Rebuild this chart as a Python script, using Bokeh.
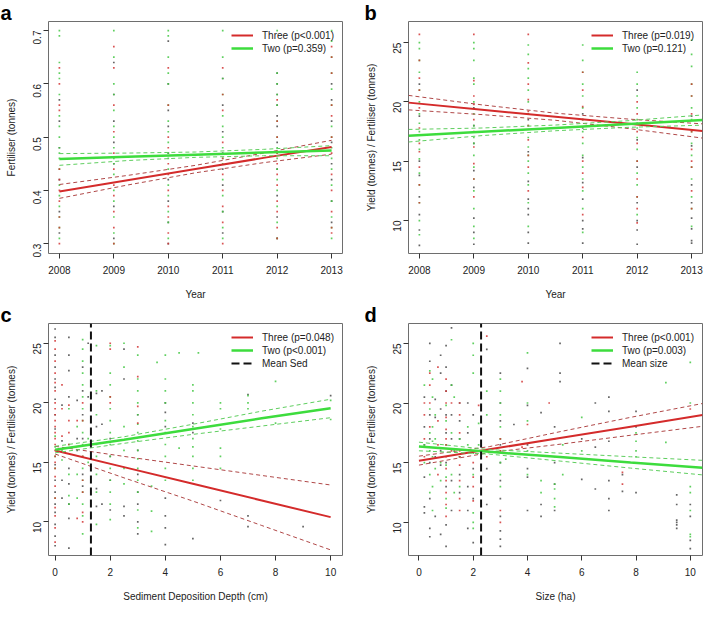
import math
from bokeh.plotting import figure
from bokeh.layouts import gridplot
from bokeh.models import FixedTicker, Legend, LegendItem, Range1d, Title
from bokeh.embed import file_html
from bokeh.resources import INLINE

FONT = "Liberation Sans"
RED = "#d42b2b"
GREEN = "#3ddc3d"
RED_CI = "#b04848"
GREEN_CI = "#5fce5f"
PT_RED = "#d23636"
PT_GREEN = "#44c844"
PT_DARK = "#4a4a4a"

# ---------------- data ----------------
years = [2008, 2009, 2010, 2011, 2012, 2013]

# Panel a: Fertiliser (tonnes) by year
a_two = [
    [0.31, 0.33, 0.35, 0.37, 0.39, 0.41, 0.44, 0.46, 0.47, 0.48, 0.50, 0.52, 0.54, 0.58, 0.61, 0.62, 0.64, 0.69, 0.70],
    [0.30, 0.32, 0.35, 0.38, 0.40, 0.43, 0.45, 0.46, 0.48, 0.50, 0.52, 0.55, 0.58, 0.60, 0.65, 0.70],
    [0.31, 0.34, 0.36, 0.39, 0.41, 0.44, 0.46, 0.47, 0.49, 0.51, 0.53, 0.56, 0.60, 0.62, 0.65, 0.69, 0.70],
    [0.31, 0.33, 0.36, 0.39, 0.42, 0.45, 0.46, 0.48, 0.50, 0.52, 0.54, 0.58, 0.61, 0.65, 0.70],
    [0.31, 0.34, 0.37, 0.40, 0.42, 0.44, 0.46, 0.47, 0.48, 0.50, 0.53, 0.56, 0.58, 0.60, 0.62, 0.70],
    [0.31, 0.33, 0.35, 0.38, 0.41, 0.44, 0.46, 0.48, 0.50, 0.52, 0.56, 0.59, 0.62, 0.65, 0.68, 0.70],
]
a_three = [
    [0.30, 0.33, 0.35, 0.38, 0.40, 0.42, 0.44, 0.55, 0.56, 0.60, 0.63],
    [0.30, 0.33, 0.36, 0.39, 0.41, 0.44, 0.47, 0.51, 0.56, 0.63, 0.67],
    [0.30, 0.32, 0.35, 0.37, 0.40, 0.43, 0.45, 0.48, 0.50, 0.56, 0.63],
    [0.30, 0.34, 0.37, 0.40, 0.43, 0.46, 0.49, 0.55, 0.58, 0.63],
    [0.31, 0.33, 0.36, 0.38, 0.41, 0.43, 0.45, 0.47, 0.50, 0.53, 0.57],
    [0.32, 0.33, 0.36, 0.40, 0.43, 0.47, 0.50, 0.54, 0.56, 0.62, 0.65, 0.67],
]
a_other = [
    [0.32, 0.36, 0.42, 0.48, 0.53, 0.57],
    [0.31, 0.37, 0.45, 0.49, 0.53, 0.58, 0.64],
    [0.30, 0.34, 0.38, 0.42, 0.47, 0.52, 0.55, 0.60, 0.68],
    [0.32, 0.36, 0.41, 0.44, 0.47, 0.51, 0.56, 0.61],
    [0.31, 0.35, 0.39, 0.44, 0.49, 0.52, 0.54, 0.56, 0.58, 0.60, 0.62],
    [0.34, 0.38, 0.42, 0.45, 0.49, 0.53, 0.57, 0.60],
]
a_fit_x = [2008, 2009.25, 2010.5, 2011.75, 2013]
a_three_fit = [0.398, 0.419, 0.440, 0.461, 0.4815]
a_three_upper = [0.411, 0.428, 0.447, 0.470, 0.494]
a_three_lower = [0.385, 0.410, 0.433, 0.452, 0.468]
a_two_fit = [0.459, 0.463, 0.467, 0.471, 0.475]
a_two_upper = [0.469, 0.470, 0.472, 0.477, 0.484]
a_two_lower = [0.447, 0.456, 0.462, 0.465, 0.465]

# Panel b: Yield / Fertiliser by year
b_two = [
    [8.8, 10.0, 11.5, 13.0, 14.0, 15.2, 16.0, 16.8, 17.5, 18.2, 19.0, 20.0, 21.0, 22.5, 23.5, 24.5, 25.0],
    [8.5, 9.5, 11.0, 12.5, 13.5, 14.5, 15.5, 16.5, 17.0, 18.0, 19.0, 20.0, 21.5, 22.0, 23.5, 24.5, 25.0],
    [9.5, 11.5, 13.0, 14.0, 15.0, 15.5, 16.2, 17.0, 18.0, 19.0, 20.0, 21.0, 22.0, 22.8, 24.0, 24.8],
    [9.0, 11.0, 12.5, 13.5, 14.5, 15.5, 16.5, 17.5, 18.5, 19.5, 20.5, 21.5, 22.5, 23.5, 24.8],
    [10.5, 12.0, 13.0, 14.0, 15.0, 16.0, 17.0, 17.8, 18.5, 19.5, 20.5, 21.5, 22.5],
    [9.5, 11.0, 12.0, 13.5, 14.5, 15.5, 16.5, 17.5, 18.5, 19.5, 20.5, 21.5, 23.0, 24.0, 25.2],
]
b_three = [
    [11.5, 13.0, 14.5, 15.8, 16.5, 17.8, 19.5, 21.0, 22.0, 23.5, 25.7],
    [12.0, 13.5, 14.8, 16.2, 17.5, 18.5, 19.8, 20.5, 21.8, 25.7],
    [12.5, 14.5, 15.5, 16.8, 18.0, 19.2, 20.2, 21.5, 23.3, 25.7],
    [10.5, 12.8, 14.0, 15.0, 17.0, 18.5, 19.6, 21.0, 22.5],
    [9.8, 11.0, 12.0, 13.5, 15.0, 16.5, 17.5, 19.0, 20.0],
    [11.0, 12.5, 14.5, 15.0, 16.0, 17.5, 19.0, 20.5, 21.5],
]
b_other = [
    [7.9, 9.2, 10.5, 12.0, 13.8, 15.0, 17.2, 18.8, 21.5],
    [8.0, 9.0, 10.2, 12.8, 14.2, 16.5, 18.0, 19.5],
    [8.1, 9.0, 10.5, 11.0, 11.8, 13.3, 15.8, 18.5, 19.0],
    [8.1, 9.3, 10.0, 11.8, 13.2, 15.3, 17.8, 19.0],
    [8.0, 9.2, 10.0, 11.5, 14.5, 16.8, 18.2, 21.0],
    [8.1, 8.3, 9.3, 10.2, 11.5, 13.0, 16.3, 18.8],
]
b_fit_x = [2007.8, 2009.15, 2010.5, 2011.85, 2013.2]
b_three_fit = [19.94, 19.34, 18.75, 18.15, 17.55]
b_three_upper = [20.55, 19.75, 19.05, 18.55, 18.15]
b_three_lower = [19.33, 18.93, 18.45, 17.75, 16.95]
b_two_fit = [17.15, 17.48, 17.81, 18.14, 18.47]
b_two_upper = [17.68, 17.80, 18.05, 18.42, 18.90]
b_two_lower = [16.62, 17.16, 17.57, 17.86, 18.04]

# Panel c: Yield / Fertiliser by sediment deposition depth (cm)
c_two_cols = [0, 0.25, 0.5, 0.8, 1.0, 1.2, 1.5, 2.0, 2.5, 3.0, 3.5, 3.7, 4.0, 4.5, 5.0, 5.2, 6.0, 7.0, 8.0, 10.0]
c_two_vals = [
    [12.0, 14.5, 15.5, 16.3, 17.2], [15.2, 16.0], [11.5, 12.2, 14.0, 16.5, 19.5], [12.0, 14.0, 18.0],
    [9.0, 10.5, 11.5, 12.5, 13.5, 14.5, 15.5, 16.5, 17.5, 18.5, 19.5, 20.5, 21.5, 22.5, 23.5, 24.5, 25.3],
    [15.0, 17.0], [9.8, 12.5, 14.0, 15.5, 16.5, 19.0, 21.0, 24.8],
    [10.2, 11.5, 12.5, 13.5, 14.5, 15.5, 16.5, 17.5, 18.5, 19.5, 20.5, 21.5, 22.5, 24.8],
    [13.2, 14.5, 16.0, 18.0, 23.0, 25.0],
    [9.5, 11.0, 12.5, 13.5, 14.5, 15.3, 16.0, 16.8, 17.5, 18.2, 19.0, 20.0, 21.0, 22.0, 24.0],
    [9.2, 10.9, 13.0], [23.4],
    [13.5, 14.5, 15.5, 16.5, 17.5, 18.5, 20.0, 21.0, 22.0, 24.0], [16.2, 24.2],
    [13.5, 14.5, 15.5, 16.3, 17.0, 18.0, 19.0, 20.0, 21.0, 21.5], [24.2],
    [14.5, 15.5, 16.2, 17.8, 19.5, 20.0], [19.5, 20.0, 20.6], [18.3, 21.8], [18.6, 20.2],
]
c_three_cols = [0, 0.25, 0.5, 0.8, 1.0, 2.0, 3.0]
c_three_vals = [
    [8.3, 9.5, 10.5, 11.2, 12.0, 13.0, 13.8, 14.5, 15.0, 15.5, 16.0, 16.5, 17.0, 17.5, 18.0, 18.5, 19.0, 19.5, 20.0, 21.0, 21.7, 22.5, 23.5, 24.5, 25.2],
    [17.2, 19.5, 21.5], [16.5, 17.5, 18.5, 19.8], [10.3, 18.5],
    [10.0, 10.8, 12.5, 13.5, 15.5, 18.5, 20.0], [20.0, 20.5, 24.5, 25.0], [18.3, 19.7, 22.2, 24.7],
]
c_other_cols = [0, 0.25, 0.5, 0.8, 1.0, 1.2, 1.5, 1.7, 2.0, 2.5, 3.0, 4.0, 5.0, 6.0, 7.0, 9.0, 10.0]
c_other_vals = [
    [8.0, 8.8, 9.8, 10.8, 11.5, 12.5, 13.5, 14.8, 17.8, 19.0, 20.3, 21.3, 22.0, 23.0, 24.0, 25.5, 26.2],
    [12.0, 13.5, 16.8, 19.8], [7.8, 10.3, 11.5, 13.2, 14.5, 20.5, 22.7, 24.0, 25.5], [16.0, 17.0, 20.2],
    [13.0, 14.0, 17.0, 19.0, 21.0, 23.0], [20.5, 25.0], [11.3, 12.8, 18.0, 20.8], [11.5, 18.2, 21.0],
    [11.0, 13.5, 15.5, 17.0], [10.5, 11.3, 22.0, 24.5], [9.0, 10.0, 11.5, 12.5, 14.0, 16.0, 19.0],
    [8.1, 9.5, 10.5, 12.0, 18.0, 19.2, 20.0], [8.6, 17.5, 18.3], [11.8], [9.6, 10.5, 20.7], [9.6], [20.6],
]
c_fit_x = [0, 2.5, 5, 7.5, 10]
c_three_fit = [16.0, 14.6, 13.2, 11.8, 10.4]
c_three_upper = [16.35, 15.5, 14.7, 13.9, 13.1]
c_three_lower = [15.7, 13.7, 11.75, 9.7, 7.65]
c_two_fit = [16.05, 16.9, 17.8, 18.7, 19.55]
c_two_upper = [16.35, 17.15, 18.2, 19.3, 20.3]
c_two_lower = [15.8, 16.6, 17.35, 18.05, 18.75]
c_mean_sed = 1.3

# Panel d: Yield / Fertiliser by size (ha)
d_two_cols = [0.2, 0.4, 0.5, 0.6, 0.8, 1.0, 1.2, 1.3, 1.5, 1.8, 2.0, 2.2, 2.5, 3.0, 3.2, 4.0, 4.5, 5.0, 5.3, 6.0, 8.0, 9.1, 10.0]
d_two_vals = [
    [15.0, 16.5, 21.5], [12.5, 14.0, 16.0, 17.5, 19.5, 22.7], [11.0, 13.0, 15.5, 16.8, 18.0, 20.5, 22.0],
    [14.5, 17.0, 19.0], [13.5, 15.0, 16.2], [11.2, 12.0, 13.8, 14.8, 16.5, 18.5, 19.8],
    [14.0, 17.5, 21.5, 25.3], [12.5, 16.0, 20.5], [13.0, 15.5, 17.0], [16.5, 18.0],
    [9.5, 10.0, 10.8, 14.0, 15.8, 22.5, 24.0, 25.0], [16.5, 18.3], [16.0, 19.0, 21.0],
    [13.0, 14.0, 15.0, 16.0, 17.0, 18.0, 19.0, 20.0, 21.0, 22.0], [15.3],
    [14.0, 16.0, 18.5, 20.0, 24.2], [12.5, 13.5], [11.3, 12.0, 12.8, 13.2, 15.5], [14.0, 16.5],
    [16.0, 18.8], [15.5, 16.0, 16.8, 17.5], [16.7, 21.7], [8.8, 9.0, 11.0, 12.5, 13.0, 20.0, 23.4],
]
d_three_cols = [0.2, 0.4, 0.7, 1.0, 1.2, 1.5, 2.0, 2.2, 2.5, 3.0, 3.8, 4.0, 4.8, 7.5, 10.0]
d_three_vals = [
    [15.5, 17.0, 19.0, 20.0], [18.0, 20.0, 21.5, 22.5], [14.0, 16.5, 18.5, 23.0],
    [10.5, 11.5, 12.5, 13.5, 14.5, 15.5, 16.5, 17.0, 17.8, 18.8, 20.0, 21.0, 22.0],
    [16.0, 20.0], [11.0, 12.0, 13.5, 14.8, 15.5, 16.0, 17.5, 19.0, 20.0], [11.8, 13.0, 13.8, 15.0],
    [19.8], [15.5, 25.6], [10.0, 11.0, 16.0, 17.0], [16.3, 21.8], [18.2], [20.0], [13.2, 14.2], [19.5],
]
d_other_cols = [0.2, 0.4, 0.6, 0.8, 1.0, 1.2, 1.5, 1.8, 2.0, 2.5, 3.0, 3.5, 4.0, 4.5, 5.0, 5.2, 6.0, 6.5, 7.0, 7.5, 8.0, 9.5, 10.0]
d_other_vals = [
    [10.8, 11.3, 13.8, 16.5, 18.0, 20.5], [8.8, 9.5, 12.0, 15.0, 17.0, 19.0, 23.5, 25.0],
    [10.5, 15.5, 18.8, 20.3], [9.0, 14.8, 16.0, 19.5, 22.5, 24.0],
    [8.0, 9.8, 13.0, 15.0, 17.5, 19.0, 21.0, 23.0, 24.8], [11.0, 13.5, 17.0, 19.0, 21.5, 26.3],
    [12.5, 14.0, 15.5, 17.0, 18.5, 20.0], [9.5, 11.0, 13.0, 17.5, 20.0], [8.3, 12.0, 14.5, 19.0],
    [11.5, 14.5, 24.5], [8.0, 8.6, 9.3, 10.5, 12.0, 13.5, 15.0, 16.5, 18.5, 20.0, 22.5], [18.2],
    [11.0, 13.8, 14.5, 16.5, 19.8, 22.9], [10.5, 11.5, 19.2], [11.0, 13.2, 15.0, 17.0, 18.0],
    [21.8, 22.5, 25.0], [13.6, 17.0], [12.8, 16.3, 20.0], [11.0, 12.0, 13.5, 16.8, 19.3, 20.5],
    [12.6, 14.0], [12.5, 18.0, 19.3], [9.5, 9.8, 10.0, 10.2, 11.5, 12.3], [7.8, 8.5, 10.5, 11.5],
]
d_fit_x = [0, 2.6, 5.2, 7.8, 10.45]
d_three_fit = [15.17, 16.12, 17.07, 18.02, 18.99]
d_three_upper = [15.55, 16.35, 17.6, 18.8, 19.96]
d_three_lower = [14.8, 15.85, 16.55, 17.3, 18.05]
d_two_fit = [16.36, 15.91, 15.47, 15.02, 14.57]
d_two_upper = [16.72, 16.1, 15.8, 15.5, 15.2]
d_two_lower = [16.0, 15.72, 15.14, 14.55, 13.98]
d_mean_size = 2.29

year_ticks = [2008, 2009, 2010, 2011, 2012, 2013]
zero_ten_ticks = [0, 2, 4, 6, 8, 10]
fert_ticks = [0.3, 0.4, 0.5, 0.6, 0.7]
ratio_ticks = [10, 15, 20, 25]

a_xrange = (2007.8, 2013.2); a_yrange = (0.2815, 0.717)
b_xrange = (2007.8, 2013.2); b_yrange = (7.22, 26.78)
c_xrange = (-0.24, 10.43); c_yrange = (7.18, 26.66)
d_xrange = (-0.385, 10.45); d_yrange = (7.23, 26.66)


def flatten(cols, vals):
    xs, ys = [], []
    for c, vs in zip(cols, vals):
        for v in vs:
            xs.append(c)
            ys.append(v)
    return xs, ys


def make_panel(letter, letter_offset, width, height, borders, xr, yr, xticks, yticks, xlabel, ylabel):
    left, right, top, bottom = borders
    p = figure(width=width, height=height, x_range=Range1d(*xr), y_range=Range1d(*yr),
               output_backend="svg", toolbar_location=None,
               min_border_left=left, min_border_right=right,
               min_border_top=top, min_border_bottom=bottom)
    p.xgrid.visible = False
    p.ygrid.visible = False
    p.outline_line_color = "#6e6e6e"
    p.outline_line_width = 1
    for ax, ticks in ((p.xaxis[0], xticks), (p.yaxis[0], yticks)):
        ax.ticker = FixedTicker(ticks=ticks)
        ax.axis_line_color = None
        ax.major_tick_out = 5
        ax.major_tick_in = 0
        ax.major_tick_line_color = "#333333"
        ax.minor_tick_line_color = None
        ax.major_label_text_font = FONT
        ax.major_label_text_font_size = "10px"
        ax.major_label_text_color = "#222222"
        ax.axis_label_text_font = FONT
        ax.axis_label_text_font_size = "10px"
        ax.axis_label_text_font_style = "normal"
        ax.axis_label_text_color = "#222222"
    p.xaxis[0].axis_label = xlabel
    p.yaxis[0].axis_label = ylabel
    p.xaxis[0].major_label_standoff = 7
    p.xaxis[0].axis_label_standoff = 12
    p.yaxis[0].major_label_standoff = 6
    p.yaxis[0].axis_label_standoff = 10
    p.yaxis[0].major_label_orientation = math.pi / 2
    p.add_layout(Title(text=letter, align="left", offset=letter_offset, standoff=-4,
                       text_font=FONT, text_font_style="bold", text_font_size="20px",
                       text_color="black"), "above")
    return p


def add_points(p, xs, ys, color):
    p.scatter(xs, ys, marker="square", size=1.7, fill_color=color, line_color=None, alpha=0.85)


def add_fit(p, x, fit, up, lo, color, ci_color, lw):
    p.line(x, up, line_color=ci_color, line_width=1, line_dash="4 3")
    p.line(x, lo, line_color=ci_color, line_width=1, line_dash="4 3")
    return p.line(x, fit, line_color=color, line_width=lw)


def add_legend(p, items):
    lg = Legend(items=items, location="top_right", margin=8, padding=3, spacing=1,
                glyph_width=22, glyph_height=12, label_height=12, label_standoff=9,
                label_text_font=FONT, label_text_font_size="10px", label_text_color="#222222",
                border_line_color=None, background_fill_alpha=0)
    p.add_layout(lg)


W1, W2 = 360, 344
H1, H2 = 302, 303
B_A = (48, 18, 21, 49)
B_B = (48, 2, 21, 49)
B_C = (48, 18, 21, 50)
B_D = (48, 2, 21, 50)

# ---- panel a
pa = make_panel("a", -48, W1, H1, B_A, a_xrange, a_yrange, year_ticks, fert_ticks, "Year", "Fertiliser (tonnes)")
add_points(pa, *flatten(years, a_other), PT_DARK)
add_points(pa, *flatten(years, a_two), PT_GREEN)
add_points(pa, *flatten(years, a_three), PT_RED)
ra3 = add_fit(pa, a_fit_x, a_three_fit, a_three_upper, a_three_lower, RED, RED_CI, 2)
ra2 = add_fit(pa, a_fit_x, a_two_fit, a_two_upper, a_two_lower, GREEN, GREEN_CI, 2.5)
add_legend(pa, [LegendItem(label="Three (p<0.001)", renderers=[ra3]),
                LegendItem(label="Two (p=0.359)", renderers=[ra2])])

# ---- panel b
pb = make_panel("b", -44, W2, H1, B_B, b_xrange, b_yrange, year_ticks, ratio_ticks, "Year",
                "Yield (tonnes) / Fertiliser (tonnes)")
add_points(pb, *flatten(years, b_other), PT_DARK)
add_points(pb, *flatten(years, b_two), PT_GREEN)
add_points(pb, *flatten(years, b_three), PT_RED)
rb3 = add_fit(pb, b_fit_x, b_three_fit, b_three_upper, b_three_lower, RED, RED_CI, 2)
rb2 = add_fit(pb, b_fit_x, b_two_fit, b_two_upper, b_two_lower, GREEN, GREEN_CI, 2.5)
add_legend(pb, [LegendItem(label="Three (p=0.019)", renderers=[rb3]),
                LegendItem(label="Two (p=0.121)", renderers=[rb2])])

# ---- panel c
pc = make_panel("c", -48, W1, H2, B_C, c_xrange, c_yrange, zero_ten_ticks, ratio_ticks,
                "Sediment Deposition Depth (cm)", "Yield (tonnes) / Fertiliser (tonnes)")
add_points(pc, *flatten(c_other_cols, c_other_vals), PT_DARK)
add_points(pc, *flatten(c_two_cols, c_two_vals), PT_GREEN)
add_points(pc, *flatten(c_three_cols, c_three_vals), PT_RED)
rc3 = add_fit(pc, c_fit_x, c_three_fit, c_three_upper, c_three_lower, RED, RED_CI, 2)
rc2 = add_fit(pc, c_fit_x, c_two_fit, c_two_upper, c_two_lower, GREEN, GREEN_CI, 2.5)
rcm = pc.segment(x0=[c_mean_sed], y0=[c_yrange[0]], x1=[c_mean_sed], y1=[c_yrange[1]],
                 line_color="#111111", line_width=2, line_dash="8 4")
add_legend(pc, [LegendItem(label="Three (p=0.048)", renderers=[rc3]),
                LegendItem(label="Two (p<0.001)", renderers=[rc2]),
                LegendItem(label="Mean Sed", renderers=[rcm])])

# ---- panel d
pd_ = make_panel("d", -44, W2, H2, B_D, d_xrange, d_yrange, zero_ten_ticks, ratio_ticks,
                 "Size (ha)", "Yield (tonnes) / Fertiliser (tonnes)")
add_points(pd_, *flatten(d_other_cols, d_other_vals), PT_DARK)
add_points(pd_, *flatten(d_two_cols, d_two_vals), PT_GREEN)
add_points(pd_, *flatten(d_three_cols, d_three_vals), PT_RED)
rd3 = add_fit(pd_, d_fit_x, d_three_fit, d_three_upper, d_three_lower, RED, RED_CI, 2)
rd2 = add_fit(pd_, d_fit_x, d_two_fit, d_two_upper, d_two_lower, GREEN, GREEN_CI, 2.5)
rdm = pd_.segment(x0=[d_mean_size], y0=[d_yrange[0]], x1=[d_mean_size], y1=[d_yrange[1]],
                  line_color="#111111", line_width=2, line_dash="8 4")
add_legend(pd_, [LegendItem(label="Three (p<0.001)", renderers=[rd3]),
                 LegendItem(label="Two (p=0.003)", renderers=[rd2]),
                 LegendItem(label="Mean size", renderers=[rdm])])

grid = gridplot([[pa, pb], [pc, pd_]], toolbar_location=None)

open("out.html", "w").write(file_html(grid, INLINE))
